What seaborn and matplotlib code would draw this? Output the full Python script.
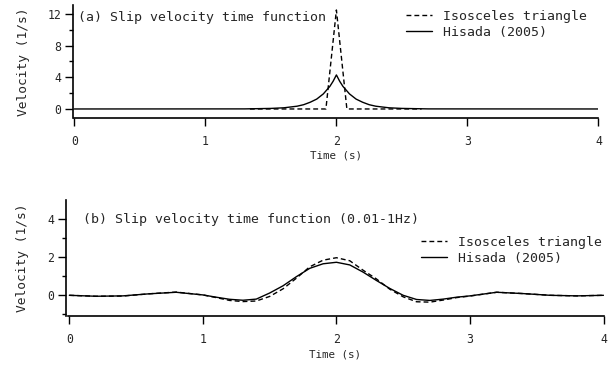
import matplotlib
matplotlib.use("Agg")
import matplotlib.pyplot as plt
import seaborn as sns
import pandas as pd

# ---- data ----
# panel (a)
t_tri = [1.34, 1.92, 2.0, 2.08, 2.65]
v_tri = [0.0, 0.0, 12.5, 0.0, 0.0]

t_his = [0.0, 1.3, 1.5, 1.6, 1.7, 1.75, 1.8, 1.85, 1.9, 1.95, 1.975, 2.0,
         2.025, 2.05, 2.1, 2.15, 2.2, 2.25, 2.3, 2.4, 2.5, 2.7, 4.0]
v_his = [0.0, 0.01, 0.07, 0.15, 0.35, 0.54, 0.85, 1.25, 1.9, 2.85, 3.5, 4.3,
         3.5, 2.85, 1.9, 1.25, 0.85, 0.54, 0.35, 0.15, 0.07, 0.01, 0.0]

# panel (b) filtered 0.01-1 Hz
t_f = [0.0, 0.2, 0.4, 0.6, 0.8, 1.0, 1.1, 1.2, 1.3, 1.4, 1.5, 1.6, 1.7, 1.8,
       1.9, 2.0, 2.1, 2.2, 2.3, 2.4, 2.5, 2.6, 2.7, 2.8, 2.9, 3.0, 3.2, 3.4,
       3.6, 3.8, 4.0]
v_tri_f = [0.0, -0.05, -0.04, 0.08, 0.17, 0.02, -0.12, -0.27, -0.33, -0.3,
           -0.06, 0.34, 0.9, 1.5, 1.85, 1.98, 1.82, 1.32, 0.86, 0.32, -0.08,
           -0.34, -0.36, -0.25, -0.12, -0.04, 0.16, 0.09, 0.0, -0.03, 0.0]
v_his_f = [0.0, -0.05, -0.03, 0.08, 0.16, 0.02, -0.1, -0.21, -0.26, -0.2,
           0.12, 0.5, 0.98, 1.42, 1.66, 1.74, 1.6, 1.22, 0.78, 0.36, 0.0,
           -0.22, -0.27, -0.2, -0.1, -0.03, 0.16, 0.09, 0.0, -0.03, 0.0]

labels = ["Isosceles triangle", "Hisada (2005)"]
titles = ["(a) Slip velocity time function",
          "(b) Slip velocity time function (0.01-1Hz)"]
xticks = [0, 1, 2, 3, 4]

sns.set_style("ticks")
plt.rcParams["font.family"] = ["DejaVu Sans Mono", "DejaVu Sans"]

W, H = 614, 365
fig = plt.figure(figsize=(W / 100, H / 100), dpi=100)

def px_rect(l, r, top, bot):
    return [l / W, 1 - bot / H, (r - l) / W, (bot - top) / H]

ax1 = fig.add_axes(px_rect(72.7, 598.5, 5, 118))
ax2 = fig.add_axes(px_rect(66, 603.5, 200, 316))

df_a1 = pd.DataFrame({"t": t_tri, "v": v_tri})
df_a2 = pd.DataFrame({"t": t_his, "v": v_his})
df_b1 = pd.DataFrame({"t": t_f, "v": v_tri_f})
df_b2 = pd.DataFrame({"t": t_f, "v": v_his_f})

dash = (3.5, 2.2)
lw = 1.0
for ax, d1, d2 in [(ax1, df_a1, df_a2), (ax2, df_b1, df_b2)]:
    sns.lineplot(data=d1, x="t", y="v", ax=ax, color="black", lw=lw,
                 label=labels[0], sort=False)
    ax.lines[-1].set_dashes(dash)
    sns.lineplot(data=d2, x="t", y="v", ax=ax, color="black", lw=lw,
                 label=labels[1], sort=False)
    for s in ["top", "right"]:
        ax.spines[s].set_visible(False)
    for s in ["left", "bottom"]:
        ax.spines[s].set_linewidth(1.2)
        ax.spines[s].set_color("black")
    ax.set_xticks(xticks)
    ax.tick_params(axis="both", which="major", length=5.5, width=1.0,
                   color="black", labelsize=8.3)
    ax.tick_params(axis="y", which="minor", length=3.1, width=1.0, color="black")
    ax.tick_params(axis="y", pad=3)
    ax.set_xlabel("Time (s)", fontsize=7.8)
    ax.set_ylabel("Velocity (1/s)", fontsize=9.3)

# panel a axes
ax1.set_xlim(-0.0122, 4.0)
ax1.set_ylim(-1.14, 13.13)
ax1.set_yticks([0, 4, 8, 12])
ax1.set_yticks([2, 6, 10], minor=True)
ax1.spines["bottom"].set_bounds(-0.005, 4.0)
ax1.tick_params(axis="x", pad=6.5)
ax1.xaxis.set_label_coords(0.5, -0.285)
ax1.yaxis.set_label_coords(-0.082, 0.5)

# panel b axes
ax2.set_xlim(-0.025, 4.0)
ax2.set_ylim(-1.09, 5.02)
ax2.set_yticks([0, 2, 4])
ax2.set_yticks([-1, 1, 3], minor=True)
ax2.spines["bottom"].set_bounds(-0.008, 4.0)
ax2.tick_params(axis="x", pad=6.5)
ax2.xaxis.set_label_coords(0.5, -0.29)
ax2.yaxis.set_label_coords(-0.068, 0.5)

# titles inside panels
fig.text(78 / W, 1 - 18 / H, titles[0], fontsize=9.5, va="center", ha="left")
fig.text(83 / W, 1 - 219 / H, titles[1], fontsize=9.5, va="center", ha="left")

# legends
for ax, (lx, ly) in [(ax1, (406, 10), ), (ax2, (421, 236))]:
    leg = ax.legend(loc="upper left", bbox_to_anchor=(lx / W, 1 - ly / H),
                    bbox_transform=fig.transFigure, frameon=False,
                    fontsize=9.5, borderpad=0, borderaxespad=0,
                    handlelength=2.0, handletextpad=0.8, labelspacing=0.2)
    for h in leg.get_lines():
        h.set_color("black")
        h.set_linewidth(lw)
    leg.get_lines()[0].set_dashes(dash)

fig.savefig("out.png", dpi=100)
